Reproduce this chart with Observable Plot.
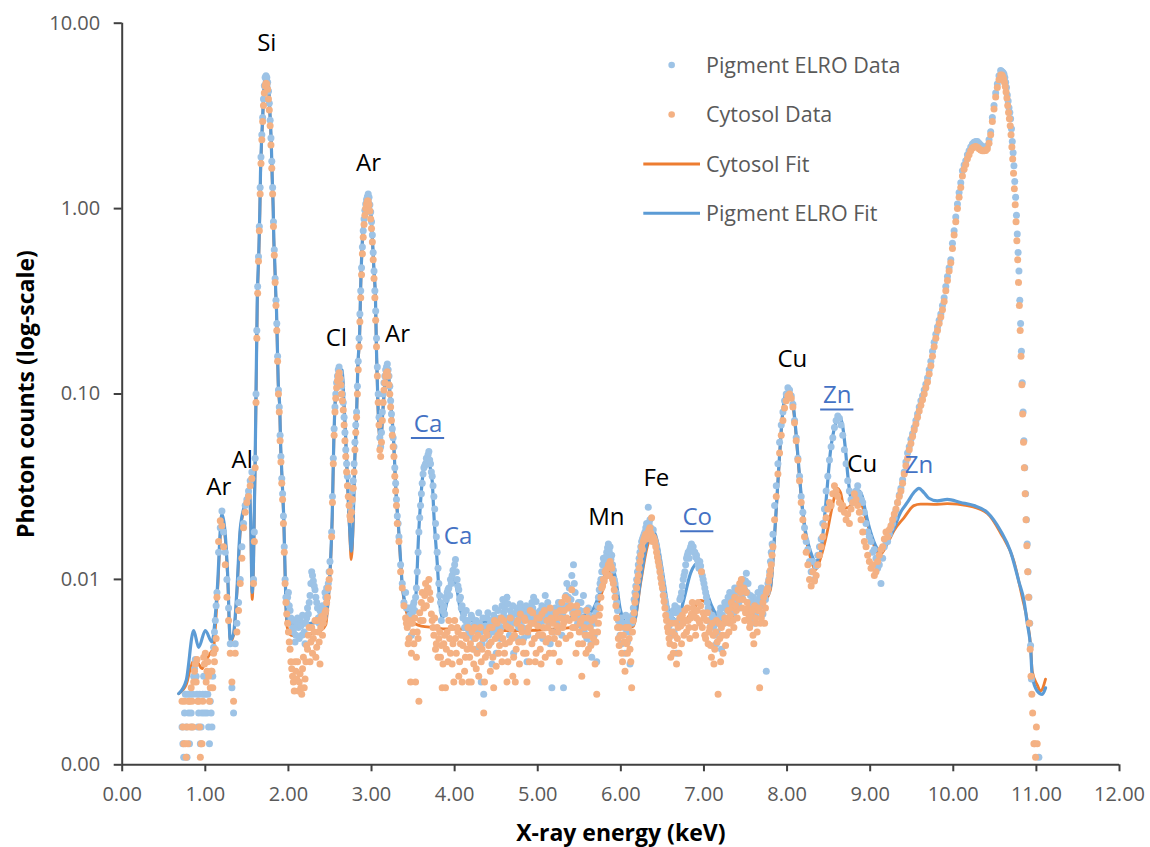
<!DOCTYPE html>
<html>
<head>
<meta charset="utf-8">
<script src="https://cdn.jsdelivr.net/npm/d3@7"></script>
<script src="https://cdn.jsdelivr.net/npm/@observablehq/plot@0.6"></script>
<style>
  html, body { margin: 0; padding: 0; background: #ffffff; }
  #chart { width: 1150px; height: 847px; }
</style>
</head>
<body>
<div id="chart"></div>
<script>
// ---------- axes ----------
const xTicks = [0, 1, 2, 3, 4, 5, 6, 7, 8, 9, 10, 11, 12];
const yTicks = [0.001, 0.01, 0.1, 1, 10];
const xDomain = [0, 12];
const yDomain = [0.001, 10];

// ---------- Pigment ELRO data (keV, photon counts) ----------
const pigmentData = [
[0.72,.0016],[0.74,.0011],[0.76,.0024],[0.78,.0011],[0.80,.0019],[0.82,.0024],[0.84,.0016],[0.86,.0030],[0.88,.0037],[0.90,.0024],
[0.92,.0019],[0.94,.0013],[0.96,.0019],[0.98,.0030],[1.00,.0024],[1.02,.0019],[1.04,.0016],[1.06,.0022],[1.08,.0016],[1.10,.0043],
[1.12,.0060],[1.14,.0085],[1.16,.0140],[1.18,.0190],[1.20,.0234],[1.22,.0180],[1.24,.0140],[1.26,.0100],[1.28,.0070],[1.30,.0045],
[1.32,.0026],[1.34,.0019],[1.36,.0045],[1.38,.0058],[1.40,.0075],[1.42,.0100],[1.44,.0150],[1.46,.0200],[1.48,.0250],[1.50,.0270],
[1.52,.0300],[1.54,.0340],[1.56,.0380],
[1.58,.010],[1.59,.018],[1.60,.045],[1.61,.10],[1.62,.22],[1.63,.38],[1.64,.55],[1.65,.80],[1.66,1.30],[1.67,1.90],
[1.68,2.50],[1.69,3.10],[1.70,3.90],[1.71,4.60],[1.72,5.10],[1.73,5.20],[1.74,5.10],[1.75,4.80],[1.76,4.30],[1.77,3.70],
[1.78,3.00],[1.79,2.40],[1.80,1.80],[1.81,1.30],[1.82,.85],[1.83,.60],[1.84,.42],[1.85,.32],[1.86,.24],[1.87,.16],
[1.88,.105],[1.89,.085],[1.90,.060],[1.91,.046],[1.92,.035],[1.93,.029],[1.94,.022],[1.95,.015],[1.96,.010],[1.97,.0080],
[1.98,.0075],[2.00,.0085],[2.02,.0068],[2.04,.0060],[2.06,.0052],[2.08,.0046],[2.10,.0058],[2.12,.0055],[2.14,.0060],[2.16,.0050],
[2.18,.0058],[2.20,.0045],[2.22,.0062],[2.24,.0065],[2.26,.0082],[2.28,.0110],[2.30,.0098],[2.32,.0088],[2.34,.0075],[2.36,.0062],
[2.38,.0068],[2.40,.0058],[2.42,.0070],[2.44,.0085],[2.46,.0090],[2.48,.0095],
[2.50,.0125],[2.52,.018],[2.53,.028],[2.54,.045],[2.55,.065],[2.56,.085],[2.57,.100],[2.58,.115],[2.59,.125],[2.60,.135],
[2.61,.140],[2.62,.130],[2.63,.120],[2.64,.110],[2.65,.100],[2.66,.090],[2.67,.075],[2.68,.062],[2.69,.050],[2.70,.042],
[2.71,.036],[2.72,.032],[2.73,.028],[2.74,.025],[2.75,.024],[2.76,.026],[2.77,.030],[2.78,.034],[2.79,.042],[2.80,.055],
[2.81,.068],[2.82,.080],[2.83,.110],[2.84,.150],[2.85,.200],[2.86,.270],[2.87,.360],[2.88,.480],[2.89,.620],[2.90,.760],
[2.91,.880],[2.92,.980],[2.93,1.06],[2.94,1.12],[2.95,1.16],[2.96,1.20],[2.97,1.15],[2.98,1.05],[2.99,.96],[3.00,.85],
[3.01,.72],[3.02,.58],[3.03,.46],[3.04,.36],[3.05,.28],[3.06,.20],[3.07,.14],[3.08,.10],[3.09,.075],[3.10,.058],
[3.11,.052],[3.12,.062],[3.13,.080],[3.14,.100],[3.15,.115],[3.16,.125],[3.17,.135],[3.18,.140],[3.19,.145],[3.20,.135],
[3.21,.125],[3.22,.110],[3.23,.092],[3.24,.078],[3.25,.065],[3.26,.058],[3.27,.052],[3.28,.040],[3.29,.033],[3.30,.027],
[3.31,.022],[3.32,.020],[3.33,.017],[3.35,.012],[3.37,.0095],[3.39,.0075],
[3.41,.0085],[3.43,.0062],[3.45,.0070],[3.47,.0058],[3.49,.0066],[3.51,.0075],[3.53,.0080],[3.55,.0110],[3.57,.0180],[3.59,.0250],
[3.61,.0330],[3.63,.0400],[3.65,.0420],[3.67,.0440],[3.69,.0490],[3.71,.0420],[3.72,.0380],[3.73,.0360],[3.75,.0280],[3.77,.0200],
[3.79,.0140],[3.81,.0095],[3.83,.0075],[3.85,.0068],[3.87,.0072],[3.89,.0080],[3.91,.0085],[3.93,.0090],[3.95,.0100],[3.97,.0105],
[3.99,.0110],[4.01,.0128],[4.03,.0100],[4.05,.0088],[4.07,.0080],[4.09,.0072],[4.11,.0065],[4.13,.0060],[4.15,.0058],[4.17,.0052],
[4.19,.0055],[4.21,.0062],[4.23,.0048],[4.25,.0058],[4.27,.0042],[4.29,.0066],[4.31,.0052],[4.33,.0045],[4.35,.0024],[4.37,.0056],
[4.39,.0062],[4.41,.0050],[4.43,.0058],[4.45,.0035],[4.47,.0064],[4.49,.0070],[4.51,.0054],[4.53,.0060],[4.55,.0048],[4.57,.0072],
[4.59,.0066],[4.61,.0075],[4.63,.0080],[4.65,.0058],[4.67,.0068],[4.69,.0062],[4.71,.0040],[4.73,.0065],[4.75,.0070],[4.77,.0055],
[4.79,.0074],[4.81,.0060],[4.83,.0048],[4.85,.0068],[4.87,.0036],[4.89,.0062],[4.91,.0070],[4.93,.0075],[4.95,.0080],[4.97,.0058],
[4.99,.0064],[5.01,.0050],[5.03,.0068],[5.05,.0072],[5.07,.0060],[5.09,.0082],[5.11,.0055],[5.13,.0066],[5.15,.0045],[5.17,.0026],
[5.19,.0062],[5.21,.0070],[5.23,.0058],[5.25,.0075],[5.27,.0066],[5.29,.0050],[5.31,.0026],[5.33,.0072],[5.35,.0095],[5.37,.0080],
[5.39,.0070],[5.41,.0105],[5.43,.0120],[5.45,.0085],[5.47,.0062],[5.49,.0075],[5.51,.0068],[5.53,.0056],[5.55,.0082],[5.57,.0060],
[5.59,.0048],[5.61,.0070],[5.63,.0055],[5.65,.0038],[5.67,.0062],[5.69,.0058],[5.71,.0036],[5.73,.0080],[5.75,.0095],[5.77,.0110],
[5.79,.0130],[5.81,.0118],[5.83,.0140],[5.85,.0155],[5.87,.0150],[5.89,.0135],[5.91,.0112],[5.93,.0095],[5.95,.0075],[5.97,.0060],
[5.99,.0050],[6.01,.0045],[6.03,.0058],[6.05,.0040],[6.07,.0052],[6.09,.0062],[6.11,.0035],[6.13,.0058],[6.15,.0070],[6.17,.0085],
[6.19,.0100],[6.21,.0120],[6.23,.0140],[6.25,.0160],[6.27,.0170],[6.29,.0180],[6.31,.0200],[6.33,.0245],[6.35,.0210],[6.37,.0175],
[6.39,.0185],[6.41,.0160],[6.43,.0150],[6.45,.0130],[6.47,.0115],[6.49,.0100],[6.51,.0088],[6.53,.0078],[6.55,.0070],[6.57,.0065],
[6.59,.0058],[6.61,.0050],[6.63,.0068],[6.65,.0072],[6.67,.0040],[6.69,.0060],[6.71,.0078],[6.73,.0085],[6.75,.0100],[6.77,.0110],
[6.79,.0130],[6.81,.0140],[6.83,.0145],[6.85,.0155],[6.87,.0150],[6.89,.0140],[6.91,.0135],[6.93,.0120],[6.95,.0125],[6.97,.0110],
[6.99,.0100],[7.01,.0090],[7.03,.0080],[7.05,.0070],[7.07,.0060],[7.09,.0055],[7.11,.0062],[7.13,.0050],[7.15,.0045],[7.17,.0058],
[7.19,.0066],[7.21,.0042],[7.23,.0070],[7.25,.0075],[7.27,.0062],[7.29,.0080],[7.31,.0085],[7.33,.0068],[7.35,.0072],[7.37,.0090],
[7.39,.0078],[7.41,.0085],[7.43,.0070],[7.45,.0095],[7.47,.0100],[7.49,.0088],[7.51,.0108],[7.53,.0095],[7.55,.0075],[7.57,.0062],
[7.59,.0080],[7.61,.0058],[7.63,.0070],[7.65,.0085],[7.67,.0075],[7.69,.0090],[7.71,.0065],[7.73,.0080],[7.75,.0032],[7.77,.0095],
[7.79,.0110],[7.81,.0140],
[7.83,.0175],[7.85,.025],[7.87,.032],[7.89,.042],[7.91,.055],[7.93,.068],[7.95,.080],[7.97,.092],[7.99,.100],[8.01,.108],
[8.03,.105],[8.05,.098],[8.07,.088],[8.09,.072],[8.11,.058],[8.13,.045],[8.15,.036],[8.17,.028],[8.19,.023],[8.21,.019],
[8.23,.016],[8.25,.0145],[8.27,.0125],[8.29,.011],[8.31,.0125],[8.33,.010],[8.35,.0118],[8.37,.0135],[8.39,.0150],[8.41,.0165],
[8.43,.020],[8.45,.024],[8.47,.030],[8.49,.036],[8.51,.044],[8.53,.052],[8.55,.058],[8.57,.066],[8.59,.072],[8.61,.076],
[8.63,.074],[8.65,.068],[8.67,.060],[8.69,.050],[8.71,.042],[8.73,.034],[8.75,.030],[8.77,.027],[8.79,.026],[8.81,.028],
[8.83,.030],[8.85,.032],[8.87,.029],[8.89,.027],[8.91,.026],[8.93,.023],[8.95,.020],[8.97,.018],[8.99,.017],[9.01,.016],
[9.03,.014],[9.05,.0145],[9.07,.013],[9.09,.0115],[9.11,.012],[9.13,.0095],[9.15,.013],[9.17,.015],[9.19,.016],
[9.21,.0160],[9.23,.0175],[9.25,.0190],[9.27,.0200],[9.29,.0215],[9.31,.0235],[9.33,.0260],[9.35,.0285],[9.37,.0310],[9.39,.0345],
[9.41,.0380],[9.43,.0430],[9.45,.0480],[9.47,.0520],[9.49,.0570],[9.51,.0610],[9.53,.0660],[9.55,.0720],[9.57,.0780],[9.59,.0850],
[9.61,.0920],[9.63,.0980],[9.65,.1050],[9.67,.1130],[9.69,.1220],[9.71,.1350],[9.73,.1500],[9.75,.1700],[9.77,.1900],[9.79,.2100],
[9.81,.2300],[9.83,.2500],[9.85,.2700],[9.87,.3000],[9.89,.3300],[9.91,.3800],[9.93,.4300],[9.95,.4800],[9.97,.5300],[9.99,.6500],
[10.01,.7600],[10.03,.9000],[10.05,1.06],[10.07,1.22],[10.09,1.38],[10.11,1.60],[10.13,1.72],[10.15,1.81],[10.17,1.95],[10.19,2.05],
[10.21,2.15],[10.23,2.23],[10.25,2.28],[10.27,2.30],[10.29,2.30],[10.31,2.25],[10.33,2.20],[10.35,2.15],[10.37,2.15],[10.39,2.15],
[10.41,2.18],[10.43,2.35],[10.45,2.60],[10.47,3.10],[10.49,3.60],[10.51,4.20],[10.53,4.70],[10.55,5.20],[10.57,5.55],
[10.58,5.50],[10.59,5.45],[10.60,5.40],[10.61,5.30],[10.62,5.10],[10.63,4.80],[10.64,4.50],[10.65,4.10],[10.66,3.80],[10.67,3.50],
[10.68,3.30],[10.69,3.05],[10.70,2.70],[10.71,2.30],[10.72,2.00],[10.73,1.70],[10.74,1.40],[10.75,1.15],[10.76,.92],[10.77,.73],
[10.78,.58],[10.79,.46],[10.80,.32],[10.81,.24],[10.82,.17],[10.83,.115],[10.84,.080],[10.85,.056],[10.86,.040],[10.87,.029],
[10.88,.021],[10.89,.0155],[10.90,.0110],[10.91,.0080],[10.92,.0058],[10.93,.0044],[10.94,.0029],[11.03,.0011]
];
// in-between channels of the Pigment ELRO data in the noisy stretches
const pigmentDataMid = [
[0.73,.0013],[0.75,.0019],[0.77,.0016],[0.79,.0024],[0.81,.0013],[0.83,.0019],[0.85,.0024],[0.87,.0033],[0.89,.0030],[0.91,.0016],
[0.93,.0024],[0.95,.0016],[0.97,.0024],[0.99,.0019],[1.01,.0030],[1.03,.0024],[1.05,.0013],[1.07,.0019],[1.09,.0030],[1.11,.0052],[1.13,.0072],
[1.99,.0080],[2.01,.0072],[2.03,.0062],[2.05,.0055],[2.07,.0060],[2.09,.0050],[2.11,.0062],[2.13,.0048],[2.15,.0056],[2.17,.0064],
[2.19,.0052],[2.21,.0058],[2.23,.0070],[2.25,.0075],[2.27,.0095],[2.29,.0105],[2.31,.0092],[2.33,.0080],[2.35,.0070],[2.37,.0058],
[2.39,.0064],[2.41,.0072],[2.43,.0066],[2.45,.0080],[2.47,.0088],[2.49,.0110],
[3.42,.0070],[3.44,.0058],[3.46,.0064],[3.48,.0050],[3.50,.0072],[3.52,.0068],[3.54,.0090],[3.56,.0140],[3.58,.0215],[3.60,.0290],
[3.62,.0370],[3.64,.0410],[3.66,.0450],[3.68,.0470],[3.70,.0440],[3.74,.0320],[3.76,.0240],[3.78,.0170],[3.80,.0115],[3.82,.0082],
[3.84,.0060],[3.86,.0070],[3.88,.0065],[3.90,.0078],[3.92,.0088],[3.94,.0082],[3.96,.0095],[3.98,.0112],[4.00,.0120],[4.02,.0110],
[4.04,.0092],[4.06,.0078],[4.08,.0070],[4.10,.0062],[4.12,.0055],[4.14,.0068],[4.16,.0060],[4.18,.0050],[4.20,.0064],[4.22,.0056],
[4.24,.0042],[4.26,.0060],[4.28,.0052],[4.30,.0058],[4.32,.0028],[4.34,.0062],[4.36,.0048],[4.38,.0055],[4.40,.0066],[4.42,.0045],
[4.44,.0060],[4.46,.0052],[4.48,.0058],[4.50,.0040],[4.52,.0068],[4.54,.0062],[4.56,.0055],[4.58,.0078],[4.60,.0070],[4.62,.0062],
[4.64,.0074],[4.66,.0050],[4.68,.0064],[4.70,.0072],[4.72,.0058],[4.74,.0066],[4.76,.0048],[4.78,.0062],[4.80,.0070],[4.82,.0055],
[4.84,.0064],[4.86,.0072],[4.88,.0050],[4.90,.0066],[4.92,.0058],[4.94,.0070],[4.96,.0062],[4.98,.0076],[5.00,.0066],[5.02,.0058],
[5.04,.0062],[5.06,.0048],[5.08,.0070],[5.10,.0064],[5.12,.0075],[5.14,.0058],[5.16,.0066],[5.18,.0052],[5.20,.0060],[5.22,.0068],
[5.24,.0062],[5.26,.0055],[5.28,.0070],[5.30,.0064],[5.32,.0060],[5.34,.0082],[5.36,.0072],[5.38,.0090],[5.40,.0078],[5.42,.0066],
[5.44,.0095],[5.46,.0070],[5.48,.0058],[5.50,.0064],[5.52,.0075],[5.54,.0062],[5.56,.0052],[5.58,.0068],[5.60,.0058],[5.62,.0064],
[5.64,.0045],[5.66,.0058],[5.68,.0050],[5.70,.0066],[5.72,.0072],[5.74,.0088],[5.76,.0100],[5.78,.0120],[5.80,.0125],[5.82,.0132],
[5.84,.0148],[5.86,.0142],[5.88,.0128],[5.90,.0120],[5.92,.0100],[5.94,.0085],[5.96,.0068],[5.98,.0056],[6.00,.0062],[6.02,.0050],
[6.04,.0055],[6.06,.0064],[6.08,.0046],[6.10,.0058],[6.12,.0052],[6.14,.0064],[6.16,.0078],[6.18,.0092],[6.20,.0110],[6.22,.0130],
[6.24,.0150],[6.26,.0165],[6.28,.0175],[6.30,.0190],[6.32,.0195],[6.34,.0200],[6.36,.0190],[6.38,.0170],[6.40,.0165],[6.42,.0155],
[6.44,.0140],[6.46,.0122],[6.48,.0108],[6.50,.0095],[6.52,.0082],[6.54,.0074],[6.56,.0062],[6.58,.0056],[6.60,.0064],[6.62,.0060],
[6.64,.0052],[6.66,.0066],[6.68,.0070],[6.70,.0068],[6.72,.0080],[6.74,.0092],[6.76,.0105],[6.78,.0120],[6.80,.0135],[6.82,.0130],
[6.84,.0150],[6.86,.0145],[6.88,.0140],[6.90,.0132],[6.92,.0128],[6.94,.0115],[6.96,.0118],[6.98,.0105],[7.00,.0095],[7.02,.0085],
[7.04,.0075],[7.06,.0066],[7.08,.0058],[7.10,.0064],[7.12,.0056],[7.14,.0060],[7.16,.0052],[7.18,.0062],[7.20,.0070],[7.22,.0064],
[7.24,.0058],[7.26,.0072],[7.28,.0068],[7.30,.0078],[7.32,.0074],[7.34,.0082],[7.36,.0066],[7.38,.0085],[7.40,.0090],[7.42,.0075],
[7.44,.0088],[7.46,.0080],[7.48,.0092],[7.50,.0098],[7.52,.0085],[7.54,.0070],[7.56,.0082],[7.58,.0068],[7.60,.0075],[7.62,.0064],
[7.64,.0078],[7.66,.0068],[7.68,.0082],[7.70,.0072],[7.72,.0088],[7.74,.0078],[7.76,.0085],[7.78,.0100],[7.80,.0125],[7.82,.0155]
];

// ---------- Cytosol data (keV, photon counts) ----------
const cytosolData = [
[0.72,.0022],[0.74,.0013],[0.76,.0013],[0.78,.0016],[0.80,.0022],[0.82,.0016],[0.84,.0022],[0.86,.0028],[0.88,.0035],[0.90,.0037],
[0.92,.0022],[0.94,.0011],[0.96,.0013],[0.98,.0038],[1.00,.0040],[1.02,.0032],[1.04,.0030],[1.06,.0026],[1.08,.0032],[1.10,.0040],
[1.12,.0042],[1.14,.0080],[1.16,.0160],[1.18,.0207],[1.20,.0195],[1.22,.0150],[1.24,.0120],[1.26,.0080],[1.28,.0060],[1.30,.0040],
[1.32,.0028],[1.34,.0022],[1.36,.0040],[1.38,.0052],[1.40,.0068],[1.42,.0095],[1.44,.0130],[1.46,.0190],[1.48,.0230],[1.50,.0260],
[1.52,.0280],[1.54,.0320],[1.56,.0350],
[1.58,.0095],[1.59,.016],[1.60,.040],[1.61,.090],[1.62,.200],[1.63,.350],[1.64,.520],[1.65,.760],[1.66,1.20],[1.67,1.75],
[1.68,2.35],[1.69,2.95],[1.70,3.60],[1.71,4.20],[1.72,4.60],[1.73,4.75],[1.74,4.70],[1.75,4.40],[1.76,3.90],[1.77,3.40],
[1.78,2.80],[1.79,2.20],[1.80,1.65],[1.81,1.20],[1.82,.80],[1.83,.56],[1.84,.40],[1.85,.30],[1.86,.22],[1.87,.15],
[1.88,.100],[1.89,.080],[1.90,.056],[1.91,.043],[1.92,.033],[1.93,.027],[1.94,.020],[1.95,.014],[1.96,.0095],[1.97,.0075],
[1.98,.0065],[2.00,.0052],[2.02,.0042],[2.04,.0033],[2.06,.0028],[2.08,.0036],[2.10,.0029],[2.12,.0025],[2.14,.0031],[2.16,.0024],
[2.18,.0038],[2.20,.0029],[2.22,.0044],[2.24,.0050],[2.26,.0036],[2.28,.0055],[2.30,.0048],[2.32,.0060],[2.34,.0043],[2.36,.0052],
[2.38,.0035],[2.40,.0063],[2.42,.0058],[2.44,.0066],[2.46,.0075],[2.48,.0090],
[2.50,.011],[2.52,.017],[2.53,.026],[2.54,.042],[2.55,.060],[2.56,.080],[2.57,.095],[2.58,.108],[2.59,.118],[2.60,.125],
[2.61,.130],[2.62,.122],[2.63,.112],[2.64,.100],[2.65,.092],[2.66,.082],[2.67,.068],[2.68,.056],[2.69,.046],[2.70,.038],
[2.71,.032],[2.72,.028],[2.73,.025],[2.74,.022],[2.75,.021],[2.76,.023],[2.77,.027],[2.78,.031],[2.79,.038],[2.80,.050],
[2.81,.062],[2.82,.075],[2.83,.100],[2.84,.135],[2.85,.180],[2.86,.245],[2.87,.330],[2.88,.440],[2.89,.570],[2.90,.700],
[2.91,.820],[2.92,.920],[2.93,1.00],[2.94,1.06],[2.95,1.10],[2.96,1.10],[2.97,1.05],[2.98,.97],[2.99,.88],[3.00,.78],
[3.01,.66],[3.02,.53],[3.03,.42],[3.04,.33],[3.05,.25],[3.06,.18],[3.07,.125],[3.08,.090],[3.09,.068],[3.10,.050],
[3.11,.046],[3.12,.055],[3.13,.072],[3.14,.090],[3.15,.105],[3.16,.115],[3.17,.125],[3.18,.130],[3.19,.132],[3.20,.125],
[3.21,.112],[3.22,.100],[3.23,.085],[3.24,.072],[3.25,.060],[3.26,.052],[3.27,.046],[3.28,.036],[3.29,.030],[3.30,.025],
[3.31,.020],[3.33,.016],[3.35,.011],[3.37,.0090],[3.39,.0072],
[3.41,.0062],[3.43,.0055],[3.45,.0048],[3.47,.0028],[3.49,.0058],[3.51,.0045],[3.53,.0028],[3.55,.0052],[3.57,.0022],[3.59,.0060],
[3.61,.0085],[3.63,.0070],[3.65,.0095],[3.67,.0088],[3.69,.0100],[3.71,.0078],[3.73,.0060],[3.75,.0050],[3.77,.0042],[3.79,.0055],
[3.81,.0048],[3.83,.0038],[3.85,.0026],[3.87,.0045],[3.89,.0026],[3.91,.0052],[3.93,.0060],[3.95,.0040],[3.97,.0035],[3.99,.0028],
[4.01,.0048],[4.03,.0055],[4.05,.0030],[4.07,.0045],[4.09,.0028],[4.11,.0050],[4.13,.0038],[4.15,.0042],[4.17,.0028],
[4.19,.0045],[4.21,.0052],[4.23,.0035],[4.25,.0048],[4.27,.0040],[4.29,.0030],[4.31,.0055],[4.33,.0042],[4.35,.0019],[4.37,.0038],
[4.39,.0050],[4.41,.0044],[4.43,.0032],[4.45,.0055],[4.47,.0026],[4.49,.0048],[4.51,.0058],[4.53,.0040],[4.55,.0052],[4.57,.0036],
[4.59,.0060],[4.61,.0045],[4.63,.0028],[4.65,.0055],[4.67,.0062],[4.69,.0048],[4.71,.0038],[4.73,.0028],[4.75,.0058],[4.77,.0046],
[4.79,.0065],[4.81,.0052],[4.83,.0040],[4.85,.0060],[4.87,.0028],[4.89,.0055],[4.91,.0068],[4.93,.0045],[4.95,.0058],[4.97,.0036],
[4.99,.0062],[5.01,.0050],[5.03,.0042],[5.05,.0065],[5.07,.0055],[5.09,.0038],[5.11,.0060],[5.13,.0048],[5.15,.0070],[5.17,.0052],
[5.19,.0040],[5.21,.0062],[5.23,.0056],[5.25,.0045],[5.27,.0068],[5.29,.0075],[5.31,.0058],[5.33,.0080],[5.35,.0062],[5.37,.0070],
[5.39,.0050],[5.41,.0088],[5.43,.0065],[5.45,.0055],[5.47,.0072],[5.49,.0045],[5.51,.0058],[5.53,.0030],[5.55,.0062],[5.57,.0050],
[5.59,.0068],[5.61,.0042],[5.63,.0055],[5.65,.0060],[5.67,.0048],[5.69,.0035],[5.71,.0024],[5.73,.0058],[5.75,.0070],[5.77,.0090],
[5.79,.0100],[5.81,.0110],[5.83,.0105],[5.85,.0120],[5.87,.0125],[5.89,.0115],[5.91,.0095],[5.93,.0080],[5.95,.0062],[5.97,.0048],
[5.99,.0055],[6.01,.0040],[6.03,.0050],[6.05,.0032],[6.07,.0045],[6.09,.0055],[6.11,.0042],[6.13,.0026],[6.15,.0060],[6.17,.0075],
[6.19,.0090],[6.21,.0105],[6.23,.0125],[6.25,.0150],[6.27,.0160],[6.29,.0170],[6.31,.0165],[6.33,.0180],[6.35,.0190],[6.37,.0215],
[6.39,.0170],[6.41,.0160],[6.43,.0140],[6.45,.0125],[6.47,.0110],[6.49,.0095],[6.51,.0082],[6.53,.0070],[6.55,.0060],[6.57,.0052],
[6.59,.0045],[6.61,.0058],[6.63,.0040],[6.65,.0050],[6.67,.0035],[6.69,.0055],[6.71,.0062],[6.73,.0045],[6.75,.0058],[6.77,.0068],
[6.79,.0052],[6.81,.0060],[6.83,.0048],[6.85,.0065],[6.87,.0070],[6.89,.0055],[6.91,.0062],[6.93,.0075],[6.95,.0058],[6.97,.0110],
[6.99,.0066],[7.01,.0050],[7.03,.0060],[7.05,.0045],[7.07,.0055],[7.09,.0038],[7.11,.0050],[7.13,.0042],[7.15,.0060],[7.17,.0024],
[7.19,.0048],[7.21,.0055],[7.23,.0040],[7.25,.0062],[7.27,.0050],[7.29,.0068],[7.31,.0058],[7.33,.0075],[7.35,.0060],[7.37,.0080],
[7.39,.0068],[7.41,.0088],[7.43,.0095],[7.45,.0100],[7.47,.0078],[7.49,.0060],[7.51,.0085],[7.53,.0070],[7.55,.0055],[7.57,.0065],
[7.59,.0050],[7.61,.0072],[7.63,.0058],[7.65,.0068],[7.67,.0026],[7.69,.0062],[7.71,.0075],[7.73,.0058],[7.75,.0085],[7.77,.0090],
[7.79,.0105],[7.81,.0120],
[7.83,.0150],[7.85,.0210],[7.87,.0280],[7.89,.0370],[7.91,.0480],[7.93,.0600],[7.95,.0720],[7.97,.0840],[7.99,.0920],[8.01,.0980],
[8.03,.1000],[8.05,.0950],[8.07,.0850],[8.09,.0700],[8.11,.0560],[8.13,.0440],[8.15,.0340],[8.17,.0260],[8.19,.0210],[8.21,.0170],
[8.23,.0140],[8.25,.0120],[8.27,.0100],[8.29,.0092],[8.31,.0110],[8.33,.0098],[8.35,.0105],[8.37,.0120],[8.39,.0135],[8.41,.0150],
[8.43,.0170],[8.45,.0195],[8.47,.0215],[8.49,.0240],[8.51,.0260],[8.53,.0250],[8.55,.0290],[8.57,.0320],[8.59,.0300],[8.61,.0280],
[8.63,.0260],[8.65,.0240],[8.67,.0250],[8.69,.0230],[8.71,.0210],[8.73,.0225],[8.75,.0200],[8.77,.0240],[8.79,.0260],[8.81,.0290],
[8.83,.0270],[8.85,.0250],[8.87,.0230],[8.89,.0210],[8.91,.0180],[8.93,.0160],[8.95,.0150],[8.97,.0135],[8.99,.0125],[9.01,.0115],
[9.03,.0120],[9.05,.0105],[9.07,.0110],[9.09,.0125],[9.11,.0135],[9.13,.0145],[9.15,.0150],[9.17,.0165],[9.19,.0180],
[9.21,.0170],[9.23,.0185],[9.25,.0195],[9.27,.0210],[9.29,.0225],[9.31,.0240],[9.33,.0260],[9.35,.0280],[9.37,.0300],[9.39,.0330],
[9.41,.0370],[9.43,.0410],[9.45,.0450],[9.47,.0500],[9.49,.0540],[9.51,.0590],[9.53,.0640],[9.55,.0690],[9.57,.0750],[9.59,.0810],
[9.61,.0870],[9.63,.0930],[9.65,.1000],[9.67,.1080],[9.69,.1160],[9.71,.1280],[9.73,.1420],[9.75,.1600],[9.77,.1800],[9.79,.2000],
[9.81,.2200],[9.83,.2400],[9.85,.2600],[9.87,.2850],[9.89,.3150],[9.91,.3600],[9.93,.4100],[9.95,.4600],[9.97,.5100],[9.99,.6100],
[10.01,.7200],[10.03,.8500],[10.05,1.00],[10.07,1.15],[10.09,1.30],[10.11,1.50],[10.13,1.63],[10.15,1.73],[10.17,1.86],[10.19,1.95],
[10.21,2.05],[10.23,2.12],[10.25,2.15],[10.27,2.16],[10.29,2.14],[10.31,2.10],[10.33,2.07],[10.35,2.05],[10.37,2.05],[10.39,2.06],
[10.41,2.10],[10.43,2.25],[10.45,2.50],[10.47,2.95],[10.49,3.45],[10.51,4.00],[10.53,4.50],[10.55,4.95],[10.57,5.25],
[10.585,5.25],[10.595,5.15],[10.605,5.00],[10.615,4.80],[10.625,4.55],[10.635,4.25],[10.645,3.95],[10.655,3.60],[10.665,3.30],[10.675,3.05],
[10.685,2.80],[10.695,2.50],[10.705,2.15],[10.715,1.85],[10.725,1.55],[10.735,1.28],[10.745,1.05],[10.755,.85],[10.765,.67],[10.775,.53],
[10.785,.40],[10.795,.30],[10.805,.22],[10.815,.16],[10.825,.112],[10.835,.078],[10.845,.055],[10.855,.040],[10.865,.029],[10.875,.021],
[10.885,.0152],[10.895,.0110],[10.905,.0080],[10.915,.0058],[10.925,.0042],[10.935,.0030],[10.945,.0024],[10.955,.0019],[10.97,.0013],[10.98,.0013],
[10.99,.0011],[11.00,.0016],[11.01,.0013]
];
// in-between channels of the Cytosol data in the noisy stretches
const cytosolDataMid = [
[0.73,.0016],[0.75,.0022],[0.77,.0011],[0.79,.0013],[0.81,.0022],[0.83,.0026],[0.85,.0016],[0.87,.0032],[0.89,.0028],[0.91,.0022],
[0.93,.0016],[0.95,.0013],[0.97,.0022],[0.99,.0035],[1.01,.0028],[1.03,.0036],[1.05,.0022],[1.07,.0032],[1.09,.0026],[1.11,.0036],[1.13,.0048],
[1.99,.0058],[2.01,.0046],[2.03,.0036],[2.05,.0030],[2.07,.0025],[2.09,.0032],[2.11,.0036],[2.13,.0028],[2.15,.0026],[2.17,.0033],
[2.19,.0026],[2.21,.0036],[2.23,.0042],[2.25,.0055],[2.27,.0046],[2.29,.0040],[2.31,.0052],[2.33,.0038],[2.35,.0060],[2.37,.0046],
[2.39,.0055],[2.41,.0050],[2.43,.0062],[2.45,.0068],[2.47,.0080],[2.49,.0100],
[3.42,.0058],[3.44,.0045],[3.46,.0060],[3.48,.0040],[3.50,.0052],[3.52,.0062],[3.54,.0038],[3.56,.0048],[3.58,.0066],[3.60,.0075],
[3.62,.0060],[3.64,.0082],[3.66,.0072],[3.68,.0090],[3.70,.0085],[3.72,.0065],[3.74,.0055],[3.76,.0062],[3.78,.0045],[3.80,.0038],
[3.82,.0052],[3.84,.0044],[3.86,.0035],[3.88,.0050],[3.90,.0042],[3.92,.0036],[3.94,.0048],[3.96,.0055],[3.98,.0045],[4.00,.0060],
[4.02,.0040],[4.04,.0052],[4.06,.0036],[4.08,.0050],[4.10,.0044],[4.12,.0032],[4.14,.0048],[4.16,.0055],[4.18,.0038],[4.20,.0028],
[4.22,.0042],[4.24,.0055],[4.26,.0033],[4.28,.0050],[4.30,.0044],[4.32,.0036],[4.34,.0048],[4.36,.0028],[4.38,.0052],[4.40,.0040],
[4.42,.0055],[4.44,.0046],[4.46,.0038],[4.48,.0060],[4.50,.0034],[4.52,.0050],[4.54,.0044],[4.56,.0062],[4.58,.0048],[4.60,.0040],
[4.62,.0056],[4.64,.0036],[4.66,.0046],[4.68,.0054],[4.70,.0030],[4.72,.0050],[4.74,.0042],[4.76,.0060],[4.78,.0035],[4.80,.0055],
[4.82,.0046],[4.84,.0062],[4.86,.0040],[4.88,.0052],[4.90,.0036],[4.92,.0058],[4.94,.0066],[4.96,.0048],[4.98,.0040],[5.00,.0056],
[5.02,.0062],[5.04,.0035],[5.06,.0050],[5.08,.0068],[5.10,.0046],[5.12,.0055],[5.14,.0040],[5.16,.0062],[5.18,.0058],[5.20,.0048],
[5.22,.0066],[5.24,.0052],[5.26,.0036],[5.28,.0062],[5.30,.0055],[5.32,.0068],[5.34,.0048],[5.36,.0078],[5.38,.0060],[5.40,.0072],
[5.42,.0055],[5.44,.0062],[5.46,.0040],[5.48,.0066],[5.50,.0052],[5.52,.0060],[5.54,.0045],[5.56,.0055],[5.58,.0040],[5.60,.0062],
[5.62,.0050],[5.64,.0044],[5.66,.0052],[5.68,.0062],[5.70,.0046],[5.72,.0052],[5.74,.0064],[5.76,.0080],[5.78,.0092],[5.80,.0098],
[5.82,.0112],[5.84,.0115],[5.86,.0105],[5.88,.0118],[5.90,.0100],[5.92,.0088],[5.94,.0072],[5.96,.0055],[5.98,.0044],[6.00,.0050],
[6.02,.0036],[6.04,.0046],[6.06,.0055],[6.08,.0040],[6.10,.0048],[6.12,.0036],[6.14,.0052],[6.16,.0066],[6.18,.0082],[6.20,.0098],
[6.22,.0115],[6.24,.0135],[6.26,.0145],[6.28,.0165],[6.30,.0175],[6.32,.0172],[6.34,.0185],[6.36,.0178],[6.38,.0160],[6.40,.0165],
[6.42,.0150],[6.44,.0132],[6.46,.0118],[6.48,.0102],[6.50,.0090],[6.52,.0076],[6.54,.0064],[6.56,.0055],[6.58,.0048],[6.60,.0038],
[6.62,.0052],[6.64,.0044],[6.66,.0058],[6.68,.0048],[6.70,.0040],[6.72,.0056],[6.74,.0064],[6.76,.0050],[6.78,.0060],[6.80,.0070],
[6.82,.0055],[6.84,.0062],[6.86,.0075],[6.88,.0064],[6.90,.0050],[6.92,.0068],[6.94,.0060],[6.96,.0072],[6.98,.0055],[7.00,.0062],
[7.02,.0048],[7.04,.0066],[7.06,.0052],[7.08,.0044],[7.10,.0058],[7.12,.0035],[7.14,.0052],[7.16,.0046],[7.18,.0058],[7.20,.0036],
[7.22,.0050],[7.24,.0058],[7.26,.0044],[7.28,.0060],[7.30,.0052],[7.32,.0064],[7.34,.0070],[7.36,.0055],[7.38,.0072],[7.40,.0062],
[7.42,.0078],[7.44,.0085],[7.46,.0070],[7.48,.0090],[7.50,.0066],[7.52,.0075],[7.54,.0062],[7.56,.0058],[7.58,.0068],[7.60,.0045],
[7.62,.0062],[7.64,.0052],[7.66,.0070],[7.68,.0058],[7.70,.0066],[7.72,.0080],[7.74,.0070],[7.76,.0088],[7.78,.0098],[7.80,.0112],
[7.82,.0135]
];

// ---------- Pigment ELRO fit ----------
const pigmentFit = [
[0.68,.00242],[0.77,.00285],[0.86,.0053],[0.92,.0043],[1.00,.0053],[1.08,.0046],[1.14,.0083],[1.20,.0225],[1.27,.0104],[1.30,.0047],
[1.34,.0051],[1.38,.0087],[1.42,.0187],[1.48,.0258],[1.53,.0307],[1.546,.0207],[1.564,.0085],[1.58,.0126],[1.604,.061],[1.625,.32],
[1.644,.595],[1.656,.98],[1.664,1.55],[1.673,2.1],[1.688,2.98],[1.704,4.33],[1.724,5.2],[1.757,4.9],[1.776,3.4],[1.793,2.33],
[1.805,1.48],[1.817,1.0],[1.824,.70],[1.836,.51],[1.848,.35],[1.857,.28],[1.865,.20],[1.877,.118],[1.897,.081],[1.905,.056],
[1.917,.041],[1.929,.031],[1.945,.0207],[1.957,.0126],[1.969,.0077],[1.986,.0060],[2.03,.0058],[2.15,.0057],[2.27,.0058],[2.39,.0059],
[2.45,.0062],[2.47,.0072],[2.486,.0087],[2.507,.0126],[2.527,.022],[2.546,.056],[2.567,.10],[2.587,.128],[2.606,.137],[2.647,.134],
[2.667,.092],[2.687,.061],[2.715,.031],[2.739,.018],[2.756,.0142],[2.78,.0215],[2.795,.040],[2.819,.074],[2.835,.14],[2.859,.23],
[2.868,.36],[2.888,.65],[2.907,.90],[2.928,1.11],[2.96,1.20],[2.988,1.0],[3.008,.73],[3.028,.48],[3.048,.32],[3.06,.17],
[3.076,.092],[3.108,.056],[3.144,.092],[3.189,.145],[3.229,.092],[3.268,.054],[3.289,.033],[3.329,.018],[3.369,.0095],[3.409,.0073],
[3.469,.0065],[3.529,.0077],[3.569,.0183],[3.61,.034],[3.65,.0436],[3.69,.042],[3.73,.034],[3.75,.0225],[3.791,.0122],[3.822,.0074],
[3.851,.0062],[3.90,.0073],[3.951,.0095],[3.99,.0101],[4.031,.0087],[4.071,.0068],[4.152,.0060],[4.392,.0059],[4.67,.0059],[5.03,.0060],
[5.39,.0062],[5.63,.0066],[5.755,.0087],[5.82,.0111],[5.876,.0122],[5.94,.0099],[5.996,.0068],[6.07,.0058],[6.153,.0058],[6.237,.0099],
[6.318,.0161],[6.378,.0188],[6.438,.0161],[6.517,.0099],[6.578,.0068],[6.679,.0060],[6.755,.0077],[6.839,.0108],[6.919,.0122],[6.999,.0099],
[7.055,.0080],[7.119,.0068],[7.239,.0060],[7.34,.0068],[7.44,.0080],[7.56,.0074],[7.72,.0080],[7.80,.0091],[7.84,.0149],[7.90,.040],
[7.942,.075],[7.982,.10],[8.022,.104],[8.063,.095],[8.102,.066],[8.142,.040],[8.183,.0247],[8.223,.018],[8.283,.0141],[8.343,.0125],
[8.403,.0141],[8.463,.0247],[8.523,.0494],[8.583,.069],[8.623,.076],[8.664,.069],[8.704,.0494],[8.732,.036],[8.764,.028],[8.804,.0265],
[8.864,.030],[8.905,.028],[8.945,.023],[9.005,.018],[9.065,.0152],[9.125,.0141],[9.206,.0161],[9.285,.0188],[9.366,.023],[9.447,.026],
[9.526,.0294],[9.586,.031],[9.646,.0294],[9.706,.0274],[9.807,.0265],[9.928,.027],[10.088,.026],[10.248,.025],[10.409,.023],[10.569,.0183],
[10.69,.0141],[10.79,.0097],[10.85,.0077],[10.89,.0058],[10.93,.0043],[10.95,.0030],[11.01,.0025],[11.07,.0024],[11.11,.0026]
];

// ---------- Cytosol fit ----------
const cytosolFit = [
[0.68,.00242],[0.77,.0027],[0.82,.0033],[0.87,.0037],[0.92,.0035],[0.96,.0033],[1.00,.0036],[1.06,.0040],[1.10,.0043],[1.14,.0075],
[1.20,.0210],[1.27,.0100],[1.30,.0046],[1.34,.0050],[1.38,.0084],[1.42,.0180],[1.48,.0250],[1.53,.0300],[1.546,.0200],[1.564,.0078],
[1.58,.0120],[1.604,.058],[1.625,.30],[1.644,.57],[1.656,.94],[1.664,1.48],[1.673,2.0],[1.688,2.85],[1.704,4.15],[1.724,5.0],
[1.757,4.7],[1.776,3.3],[1.793,2.25],[1.805,1.43],[1.817,.97],[1.824,.68],[1.836,.49],[1.848,.34],[1.857,.27],[1.865,.19],
[1.877,.114],[1.897,.078],[1.905,.054],[1.917,.040],[1.929,.030],[1.945,.0200],[1.957,.0120],[1.969,.0072],[1.986,.0055],[2.03,.0050],
[2.15,.0049],[2.27,.0051],[2.39,.0053],[2.45,.0057],[2.47,.0068],[2.486,.0083],[2.507,.0122],[2.527,.021],[2.546,.054],[2.567,.097],
[2.587,.124],[2.606,.133],[2.647,.130],[2.667,.089],[2.687,.059],[2.715,.030],[2.739,.017],[2.756,.0128],[2.78,.0205],[2.795,.039],
[2.819,.072],[2.835,.136],[2.859,.22],[2.868,.35],[2.888,.63],[2.907,.87],[2.928,1.07],[2.96,1.16],[2.988,.97],[3.008,.71],
[3.028,.47],[3.048,.31],[3.06,.165],[3.076,.089],[3.108,.054],[3.144,.089],[3.189,.140],[3.229,.089],[3.268,.052],[3.289,.032],
[3.329,.0175],[3.369,.0092],[3.409,.0070],[3.469,.0060],[3.60,.0056],[3.75,.0055],[3.90,.0054],[4.05,.0054],[4.40,.0053],[4.80,.0053],
[5.20,.0054],[5.50,.0056],[5.63,.0060],[5.755,.0080],[5.82,.0100],[5.876,.0110],[5.94,.0092],[5.996,.0064],[6.07,.0055],[6.153,.0056],
[6.237,.0095],[6.318,.0150],[6.378,.0175],[6.438,.0150],[6.517,.0093],[6.578,.0063],[6.679,.0058],[6.80,.0062],[6.90,.0072],[6.96,.0077],
[7.04,.0074],[7.16,.0062],[7.239,.0058],[7.34,.0063],[7.44,.0070],[7.56,.0068],[7.72,.0075],[7.80,.0088],[7.84,.0145],[7.90,.039],
[7.942,.073],[7.982,.097],[8.022,.101],[8.063,.092],[8.102,.064],[8.142,.039],[8.183,.024],[8.223,.0172],[8.283,.0130],[8.343,.0113],
[8.403,.0130],[8.483,.018],[8.544,.0247],[8.604,.031],[8.644,.0294],[8.684,.0247],[8.724,.0243],[8.764,.025],[8.825,.0265],[8.885,.026],
[8.945,.0215],[9.005,.0175],[9.065,.0145],[9.125,.0137],[9.206,.0155],[9.285,.0183],[9.406,.0215],[9.526,.025],[9.606,.0255],[9.766,.0254],
[9.928,.0256],[10.168,.025],[10.409,.0227],[10.569,.0178],[10.73,.0125],[10.83,.0080],[10.89,.0060],[10.93,.0044],[10.95,.0032],[11.01,.0027],
[11.05,.0025],[11.11,.0029]
];

// ---------- peak annotations ----------
const labelNames   = ["Si", "Ar", "Cl", "Ar", "Al", "Ar", "Ca", "Ca", "Mn", "Fe", "Co", "Cu", "Zn", "Cu", "Zn"];
const labelEnergy  = [1.74, 2.964, 2.577, 3.313, 1.444, 1.163, 3.68, 4.041, 5.826, 6.427, 6.919, 8.063, 8.604, 8.905, 9.586];
const labelHeight  = [7.77, 1.76, 0.1985, 0.2094, 0.0438, 0.0314, 0.069, 0.01706, 0.02164, 0.0349, 0.02164, 0.1548, 0.0982, 0.042, 0.0411];
const labelBlue    = [false, false, false, false, false, false, true, true, false, false, true, false, true, false, true];
const labelUnder   = [false, false, false, false, false, false, true, false, false, false, true, false, true, false, false];

// ---------- legend ----------
const legendNames = ["Pigment ELRO Data", "Cytosol Data", "Cytosol Fit", "Pigment ELRO Fit"];

// ---------- colours ----------
const cBlueDot = "#9DC3E6", cOrangeDot = "#F4B183", cBlueLine = "#5B9BD5", cOrangeLine = "#ED7D31";
const cLabelBlue = "#4472C4";

const labels = labelNames.map((n, i) => ({name: n, energy: labelEnergy[i], height: labelHeight[i], blue: labelBlue[i], under: labelUnder[i]}));
const underlined = labels.filter(d => d.under);
const pigmentAll = pigmentData.concat(pigmentDataMid);
const cytosolAll = cytosolData.concat(cytosolDataMid);

const fontFam = "'Open Sans', 'Liberation Sans', sans-serif";

const chart = Plot.plot({
  width: 1150,
  height: 847,
  marginLeft: 121.7,
  marginRight: 31,
  marginTop: 22.7,
  marginBottom: 82.7,
  style: {fontFamily: fontFam, fontSize: "20px", background: "#ffffff", overflow: "visible"},
  x: {domain: xDomain},
  y: {type: "log", domain: yDomain},
  marks: [
    Plot.line(cytosolFit, {x: d => d[0], y: d => d[1], stroke: cOrangeLine, strokeWidth: 2.8, curve: "monotone-x"}),
    Plot.line(pigmentFit, {x: d => d[0], y: d => d[1], stroke: cBlueLine, strokeWidth: 3.2, curve: "monotone-x"}),
    Plot.dot(pigmentAll, {x: d => d[0], y: d => d[1], r: 3.5, fill: cBlueDot}),
    Plot.dot(cytosolAll, {x: d => d[0], y: d => d[1], r: 3.5, fill: cOrangeDot}),
    Plot.ruleX([xDomain[0]], {y1: yDomain[0], y2: yDomain[1], stroke: "#404040", strokeWidth: 2}),
    Plot.ruleY([yDomain[0]], {x1: xDomain[0], x2: xDomain[1], stroke: "#404040", strokeWidth: 2}),
    Plot.axisX({ticks: xTicks, tickFormat: d3.format(".2f"), tickSize: 7, tickPadding: 15, fontSize: 20, color: "#595959", label: null}),
    Plot.axisY({ticks: yTicks, tickFormat: d3.format(".2f"), tickSize: 8, tickPadding: 14, fontSize: 20, color: "#595959", label: null}),
    Plot.text(labels, {x: "energy", y: "height", text: "name", fill: d => d.blue ? cLabelBlue : "#000000", fontSize: 24, lineAnchor: "middle", textAnchor: "middle"}),
    Plot.ruleY(underlined, {y: "height", x1: d => d.energy - 0.2, x2: d => d.energy + 0.2, dy: 14, stroke: cLabelBlue, strokeWidth: 2}),
    Plot.text(["X-ray energy (keV)"], {frameAnchor: "bottom", lineAnchor: "middle", textAnchor: "middle", dy: 68.5, fontSize: 23, fontWeight: "bold", fill: "#000000"}),
    Plot.text(["Photon counts (log-scale)"], {frameAnchor: "left", lineAnchor: "middle", textAnchor: "middle", rotate: -90, dx: -95.7, fontSize: 23, fontWeight: "bold", fill: "#000000"})
  ]
});

// axis tick strokes darker than labels
d3.select(chart).selectAll('g[aria-label="x-axis tick"], g[aria-label="y-axis tick"]')
  .attr("stroke", "#404040").attr("stroke-width", 2);

// legend inside the plot area (upper middle)
const leg = d3.select(chart).append("g").attr("class", "legend")
  .attr("font-family", fontFam).attr("font-size", 21.5).attr("fill", "#595959").attr("text-anchor", "start");
const rowY = [65, 114.5, 164, 213.3];
const swatchX0 = 643.3, swatchX1 = 700, textX = 706;
legendNames.forEach((name, i) => {
  const y = rowY[i];
  if (i === 0 || i === 1) {
    leg.append("circle").attr("cx", (swatchX0 + swatchX1) / 2).attr("cy", y).attr("r", 3.3)
      .attr("fill", i === 0 ? cBlueDot : cOrangeDot);
  } else {
    leg.append("line").attr("x1", swatchX0).attr("x2", swatchX1).attr("y1", y).attr("y2", y)
      .attr("stroke", i === 2 ? cOrangeLine : cBlueLine).attr("stroke-width", 3);
  }
  leg.append("text").attr("x", textX).attr("y", y).attr("dy", "0.35em").attr("text-anchor", "start").text(name);
});

document.getElementById("chart").appendChild(chart);
</script>
</body>
</html>
